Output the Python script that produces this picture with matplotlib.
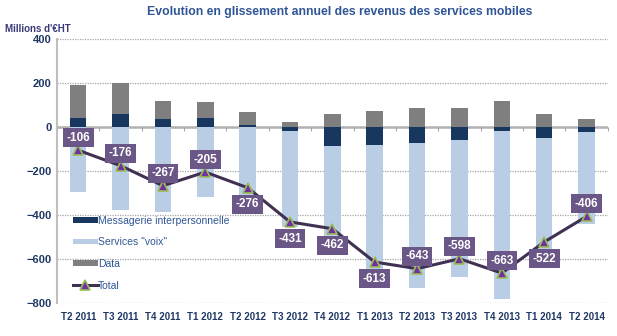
import matplotlib.pyplot as plt
import numpy as np

plt.rcParams["font.family"] = ["Liberation Sans", "DejaVu Sans"]

quarters = ["T2 2011", "T3 2011", "T4 2011", "T1 2012", "T2 2012", "T3 2012", "T4 2012",
            "T1 2013", "T2 2013", "T3 2013", "T4 2013", "T1 2014", "T2 2014"]
messagerie = [42, 58, 36, 42, 9, -19, -87, -81, -73, -58, -17, -49, -25]
voix = [-297, -376, -385, -316, -345, -436, -432, -603, -656, -624, -763, -530, -415]
data = [148, 142, 81, 69, 60, 24, 57, 71, 86, 84, 117, 57, 34]
total = [-106, -176, -267, -205, -276, -431, -462, -613, -643, -598, -663, -522, -406]
# +1 = label above the point, -1 = below
label_side = [1, 1, 1, 1, -1, -1, -1, -1, 1, 1, 1, -1, 1]

C_MESS = "#17375E"
C_VOIX = "#B9CDE5"
C_DATA = "#7F7F7F"
C_LINE = "#403152"
C_BOX = "#6A5687"
C_TEXT = "#1F3864"


def main():
    x = np.arange(len(quarters))
    mess = np.array(messagerie, dtype=float)
    vx = np.array(voix, dtype=float)
    dt = np.array(data, dtype=float)

    mess_pos = np.clip(mess, 0, None)
    mess_neg = np.clip(mess, None, 0)

    fig = plt.figure(figsize=(6.17, 3.36), dpi=100)
    ax = fig.add_axes([0.0924, 0.0973, 0.8926, 0.7877])

    w = 0.39
    b_mess = ax.bar(x, mess, w, color=C_MESS, label="Messagerie interpersonnelle", zorder=2)
    b_voix = ax.bar(x, vx, w, bottom=mess_neg, color=C_VOIX, label='Services "voix"', zorder=2)
    b_data = ax.bar(x, dt, w, bottom=mess_pos, color=C_DATA, label="Data", zorder=2)

    line, = ax.plot(x, total, color=C_LINE, lw=2.2, marker="^", markersize=7,
                    markerfacecolor="#7030A0", markeredgecolor="#9BBB59", markeredgewidth=1.2,
                    label="Total", zorder=4)

    for xi, v, side in zip(x, total, label_side):
        ax.annotate(f"{v}", (xi, v), xytext=(0, 9 if side > 0 else -12),
                    textcoords="offset points", ha="center", va="center",
                    color="white", fontsize=8.5, fontweight="bold", zorder=5,
                    bbox=dict(boxstyle="square,pad=0.3", fc=C_BOX, ec="none"))

    ax.set_xlim(-0.5, len(quarters) - 0.5)
    ax.set_ylim(-800, 400)
    ax.set_yticks([400, 200, 0, -200, -400, -600, -800])
    ax.yaxis.grid(True, linestyle=(0, (1, 1)), color="#A6A6A6", lw=0.9, zorder=0)
    ax.axhline(0, color="#BFBFBF", lw=2, zorder=1)

    for s in ["top", "right"]:
        ax.spines[s].set_visible(False)
    ax.spines["left"].set_color("#BFBFBF")
    ax.spines["left"].set_linewidth(1.5)
    ax.spines["bottom"].set_position(("data", 0))
    ax.spines["bottom"].set_visible(False)

    ax.set_xticks(np.arange(len(quarters) + 1) - 0.5)
    ax.tick_params(axis="x", length=3, color="#A6A6A6", labelbottom=False, direction="out")
    ax.tick_params(axis="y", length=0, pad=4, labelcolor=C_TEXT, labelsize=8)
    for t in ax.get_yticklabels():
        t.set_fontweight("bold")

    sec = ax.secondary_xaxis("bottom")
    sec.set_xticks(x)
    sec.set_xticklabels(quarters, fontweight="bold", fontsize=7, color=C_TEXT)
    sec.tick_params(length=0, pad=6)
    sec.spines["bottom"].set_visible(False)

    leg = ax.legend([b_mess, b_voix, b_data, line],
                    ["Messagerie interpersonnelle", 'Services "voix"', "Data", "Total"],
                    loc="upper left", bbox_to_anchor=(0.021, 0.347), frameon=False,
                    fontsize=7.5, handlelength=2.4, handleheight=0.45, labelspacing=1.12,
                    handletextpad=0.05, borderaxespad=0)
    leg.set_zorder(6)
    for t in leg.get_texts():
        t.set_color("#2F5597")

    fig.text(0.551, 0.963, "Evolution en glissement annuel des revenus des services mobiles",
             ha="center", va="center", fontsize=8.8, fontweight="bold", color="#2F5597")
    fig.text(0.008, 0.913, "Millions d'€HT", ha="left", va="center", fontsize=7,
             fontweight="bold", color="#3A3A7A")

    fig.savefig("out.png", dpi=100)
    plt.close(fig)


if __name__ == "__main__":
    main()
